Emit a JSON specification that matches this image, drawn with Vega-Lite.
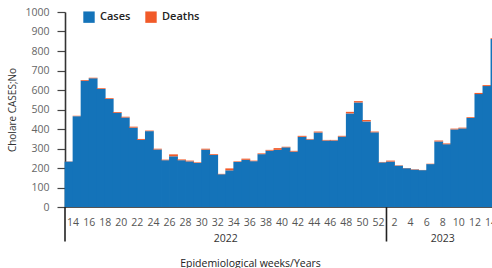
{
  "$schema": "https://vega.github.io/schema/vega-lite/v6.json",
  "width": 427,
  "height": 195,
  "autosize": {"type": "none"},
  "padding": {"left": 65, "top": 12, "right": 0, "bottom": 61},
  "background": "white",
  "config": {"view": {"stroke": null}, "font": "Open Sans", "axis": {"labelOverlap": false}},
  "data": {"values": [
    {"wk": "2022-13", "year": "2022", "Cases": 233, "Deaths": 1},
    {"wk": "2022-14", "year": "2022", "Cases": 466, "Deaths": 2},
    {"wk": "2022-15", "year": "2022", "Cases": 647, "Deaths": 4},
    {"wk": "2022-16", "year": "2022", "Cases": 660, "Deaths": 3},
    {"wk": "2022-17", "year": "2022", "Cases": 605, "Deaths": 4},
    {"wk": "2022-18", "year": "2022", "Cases": 554, "Deaths": 4},
    {"wk": "2022-19", "year": "2022", "Cases": 483, "Deaths": 4},
    {"wk": "2022-20", "year": "2022", "Cases": 459, "Deaths": 4},
    {"wk": "2022-21", "year": "2022", "Cases": 407, "Deaths": 5},
    {"wk": "2022-22", "year": "2022", "Cases": 344, "Deaths": 5},
    {"wk": "2022-23", "year": "2022", "Cases": 389, "Deaths": 3},
    {"wk": "2022-24", "year": "2022", "Cases": 295, "Deaths": 4},
    {"wk": "2022-25", "year": "2022", "Cases": 240, "Deaths": 3},
    {"wk": "2022-26", "year": "2022", "Cases": 260, "Deaths": 10},
    {"wk": "2022-27", "year": "2022", "Cases": 240, "Deaths": 4},
    {"wk": "2022-28", "year": "2022", "Cases": 234, "Deaths": 4},
    {"wk": "2022-29", "year": "2022", "Cases": 226, "Deaths": 3},
    {"wk": "2022-30", "year": "2022", "Cases": 294, "Deaths": 5},
    {"wk": "2022-31", "year": "2022", "Cases": 267, "Deaths": 4},
    {"wk": "2022-32", "year": "2022", "Cases": 168, "Deaths": 2},
    {"wk": "2022-33", "year": "2022", "Cases": 188, "Deaths": 10},
    {"wk": "2022-34", "year": "2022", "Cases": 231, "Deaths": 3},
    {"wk": "2022-35", "year": "2022", "Cases": 242, "Deaths": 6},
    {"wk": "2022-36", "year": "2022", "Cases": 235, "Deaths": 3},
    {"wk": "2022-37", "year": "2022", "Cases": 271, "Deaths": 4},
    {"wk": "2022-38", "year": "2022", "Cases": 289, "Deaths": 4},
    {"wk": "2022-39", "year": "2022", "Cases": 293, "Deaths": 9},
    {"wk": "2022-40", "year": "2022", "Cases": 306, "Deaths": 3},
    {"wk": "2022-41", "year": "2022", "Cases": 284, "Deaths": 4},
    {"wk": "2022-42", "year": "2022", "Cases": 360, "Deaths": 5},
    {"wk": "2022-43", "year": "2022", "Cases": 346, "Deaths": 3},
    {"wk": "2022-44", "year": "2022", "Cases": 382, "Deaths": 5},
    {"wk": "2022-45", "year": "2022", "Cases": 341, "Deaths": 3},
    {"wk": "2022-46", "year": "2022", "Cases": 341, "Deaths": 3},
    {"wk": "2022-47", "year": "2022", "Cases": 361, "Deaths": 4},
    {"wk": "2022-48", "year": "2022", "Cases": 480, "Deaths": 8},
    {"wk": "2022-49", "year": "2022", "Cases": 536, "Deaths": 7},
    {"wk": "2022-50", "year": "2022", "Cases": 439, "Deaths": 7},
    {"wk": "2022-51", "year": "2022", "Cases": 383, "Deaths": 4},
    {"wk": "2022-52", "year": "2022", "Cases": 229, "Deaths": 2},
    {"wk": "2023-01", "year": "2023", "Cases": 233, "Deaths": 5},
    {"wk": "2023-02", "year": "2023", "Cases": 212, "Deaths": 2},
    {"wk": "2023-03", "year": "2023", "Cases": 199, "Deaths": 1},
    {"wk": "2023-04", "year": "2023", "Cases": 192, "Deaths": 2},
    {"wk": "2023-05", "year": "2023", "Cases": 189, "Deaths": 1},
    {"wk": "2023-06", "year": "2023", "Cases": 220, "Deaths": 2},
    {"wk": "2023-07", "year": "2023", "Cases": 336, "Deaths": 5},
    {"wk": "2023-08", "year": "2023", "Cases": 322, "Deaths": 4},
    {"wk": "2023-09", "year": "2023", "Cases": 398, "Deaths": 4},
    {"wk": "2023-10", "year": "2023", "Cases": 403, "Deaths": 4},
    {"wk": "2023-11", "year": "2023", "Cases": 457, "Deaths": 4},
    {"wk": "2023-12", "year": "2023", "Cases": 579, "Deaths": 6},
    {"wk": "2023-13", "year": "2023", "Cases": 620, "Deaths": 5},
    {"wk": "2023-14", "year": "2023", "Cases": 862, "Deaths": 4}
  ]},
  "layer": [
    {
      "transform": [{"fold": ["Cases", "Deaths"], "as": ["Type", "Count"]}],
      "mark": {"type": "bar", "width": {"band": 1.1}},
      "encoding": {
        "x": {
          "field": "wk", "type": "ordinal", "sort": null,
          "scale": {"range": [0, 434], "paddingInner": 0, "paddingOuter": 0},
          "axis": {
            "title": "Epidemiological weeks/Years",
            "titleFont": "Open Sans", "titleFontSize": 10.5, "titleFontWeight": "normal", "titleColor": "#222",
            "titleX": 185, "titleY": 56, "titleBaseline": "middle", "titleAlign": "center",
            "labelExpr": "toNumber(slice(datum.value, 5)) % 2 == 0 ? '' + toNumber(slice(datum.value, 5)) : ''",
            "labelAngle": 0, "labelOffset": -4, "labelPadding": 10, "labelFontSize": 10.5, "labelColor": "#555",
            "labelOverlap": false, "labelBound": false, "labelFlush": false,
            "ticks": false, "domainColor": "#555", "domainWidth": 1.2, "grid": false
          }
        },
        "y": {
          "field": "Count", "type": "quantitative", "stack": "zero",
          "scale": {"domain": [0, 1000], "nice": false},
          "axis": {
            "title": "Cholare CASES;No", "format": "d",
            "values": [0, 100, 200, 300, 400, 500, 600, 700, 800, 900, 1000],
            "titleFont": "Open Sans", "titleFontSize": 10, "titleFontWeight": "normal", "titleColor": "#333",
            "titleX": -48,
            "labelFontSize": 10.5, "labelColor": "#666", "labelPadding": 8,
            "labelOverlap": false, "labelBound": false, "labelFlush": false,
            "tickSize": 8, "tickColor": "#444", "tickWidth": 1.2,
            "domainColor": "#333", "domainWidth": 1.6, "grid": false
          }
        },
        "color": {
          "field": "Type", "type": "nominal",
          "scale": {"domain": ["Cases", "Deaths"], "range": ["#1473b9", "#f15a29"]},
          "legend": {
            "orient": "none", "legendX": 18, "legendY": -1, "direction": "horizontal", "title": null,
            "symbolType": "square", "symbolSize": 130, "symbolStrokeWidth": 0, "symbolOpacity": 1,
            "labelFontSize": 11, "labelFontWeight": 600, "labelColor": "#222",
            "columnPadding": 14, "labelOffset": 5, "padding": 0
          }
        },
        "order": {"field": "Type", "sort": "ascending"}
      }
    },
    {
      "transform": [{"filter": "datum.wk == '2022-13' || datum.wk == '2023-01'"}],
      "mark": {"type": "rule", "color": "#222", "strokeWidth": 1.6},
      "encoding": {
        "x": {"field": "wk", "type": "ordinal", "sort": null, "bandPosition": 0},
        "y": {
          "datum": 0, "type": "quantitative", "scale": {"domain": [0, 1000], "nice": false},
          "axis": {
            "title": "Cholare CASES;No", "format": "d",
            "values": [0, 100, 200, 300, 400, 500, 600, 700, 800, 900, 1000],
            "titleFont": "Open Sans", "titleFontSize": 10, "titleFontWeight": "normal", "titleColor": "#333",
            "titleX": -48,
            "labelFontSize": 10.5, "labelColor": "#666", "labelPadding": 8,
            "labelOverlap": false, "labelBound": false, "labelFlush": false,
            "tickSize": 8, "tickColor": "#444", "tickWidth": 1.2,
            "domainColor": "#333", "domainWidth": 1.6, "grid": false
          }
        },
        "y2": {"datum": -177}
      }
    },
    {
      "transform": [{"filter": "datum.wk == '2022-33' || datum.wk == '2023-08'"}],
      "mark": {"type": "text", "fontSize": 10.5, "color": "#333", "baseline": "middle", "align": "center"},
      "encoding": {
        "x": {"field": "wk", "type": "ordinal", "sort": null, "bandPosition": 0},
        "y": {
          "datum": -165, "type": "quantitative", "scale": {"domain": [0, 1000], "nice": false},
          "axis": {
            "title": "Cholare CASES;No", "format": "d",
            "values": [0, 100, 200, 300, 400, 500, 600, 700, 800, 900, 1000],
            "titleFont": "Open Sans", "titleFontSize": 10, "titleFontWeight": "normal", "titleColor": "#333",
            "titleX": -48,
            "labelFontSize": 10.5, "labelColor": "#666", "labelPadding": 8,
            "labelOverlap": false, "labelBound": false, "labelFlush": false,
            "tickSize": 8, "tickColor": "#444", "tickWidth": 1.2,
            "domainColor": "#333", "domainWidth": 1.6, "grid": false
          }
        },
        "text": {"field": "year"}
      }
    }
  ]
}
